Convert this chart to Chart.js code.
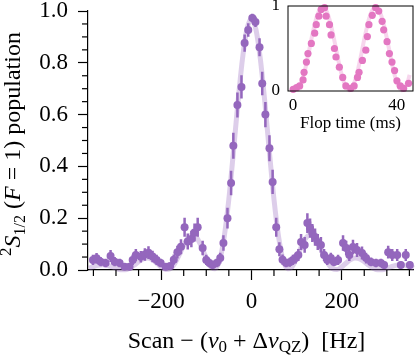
<!DOCTYPE html>
<html>
<head>
<meta charset="utf-8">
<script src="https://cdn.jsdelivr.net/npm/chart.js@4.4.1/dist/chart.umd.min.js"></script>
<style>
  html, body { margin: 0; padding: 0; background: #fff; }
  #wrap { position: relative; width: 417px; height: 357px; }
  #main { position: absolute; left: 0; top: 0; }
  #inset { position: absolute; left: 262px; top: 0; }
</style>
</head>
<body>
<div id="wrap">
  <canvas id="main" width="417" height="357"></canvas>
  <canvas id="inset" width="155" height="140"></canvas>
</div>
<script>
// main scan: detuning (Hz), population, error
const scanHz = [-351, -343, -334, -323, -312, -303, -292, -281, -270, -263, -256, -245, -236, -228, -219, -210, -201, -190, -180, -172,
  -164, -156, -148, -141, -133, -126, -119, -108, -100, -93, -86, -77, -69, -62, -53, -45, -40, -31, -22, -15,
  -7, 2, 9, 18, 24, 31, 40, 47, 55, 62, 69, 77, 85, 92, 98, 104, 110, 118, 124, 130,
  135, 141, 147, 154, 161, 168, 176, 183, 192, 203, 210, 217, 225, 234, 245, 254, 265, 276, 287, 294,
  303, 312, 323, 331, 342, 351];
const population = [0.039, 0.045, 0.032, 0.027, 0.054, 0.032, 0.027, 0.013, 0.013, 0.039, 0.058, 0.051, 0.06, 0.067, 0.052, 0.039, 0.027, 0.013, 0.015, 0.04,
  0.069, 0.09, 0.165, 0.11, 0.12, 0.145, 0.165, 0.085, 0.039, 0.027, 0.019, 0.027, 0.046, 0.104, 0.2, 0.336, 0.48, 0.637, 0.707, 0.876,
  0.927, 0.973, 0.958, 0.86, 0.72, 0.6, 0.47, 0.34, 0.165, 0.08, 0.04, 0.027, 0.03, 0.039, 0.046, 0.058, 0.108, 0.097, 0.181, 0.162,
  0.143, 0.127, 0.108, 0.097, 0.058, 0.039, 0.046, 0.031, 0.039, 0.104, 0.085, 0.058, 0.089, 0.077, 0.066, 0.046, 0.031, 0.027, 0.027, 0.019,
  0.069, 0.058, 0.058, 0.019, 0.058, 0.019];
const popErr = [0.02, 0.021, 0.018, 0.016, 0.023, 0.018, 0.016, 0.011, 0.011, 0.02, 0.023, 0.022, 0.024, 0.025, 0.022, 0.02, 0.016, 0.011, 0.012, 0.02,
  0.025, 0.029, 0.037, 0.031, 0.032, 0.035, 0.037, 0.028, 0.02, 0.016, 0.014, 0.016, 0.021, 0.03, 0.04, 0.047, 0.05, 0.048, 0.045, 0.033,
  0.026, 0.016, 0.02, 0.035, 0.045, 0.049, 0.05, 0.047, 0.037, 0.027, 0.02, 0.016, 0.017, 0.02, 0.021, 0.023, 0.031, 0.03, 0.038, 0.037,
  0.035, 0.033, 0.031, 0.03, 0.023, 0.02, 0.021, 0.017, 0.02, 0.03, 0.028, 0.023, 0.028, 0.027, 0.025, 0.021, 0.017, 0.016, 0.016, 0.014,
  0.025, 0.023, 0.023, 0.014, 0.023, 0.014];

// fitted lineshape
const fitHz = [-360, -350, -340, -330, -320, -310, -300, -290, -280, -270, -260, -250, -240, -230, -220, -210, -200, -190, -180, -170,
  -160, -150, -140, -130, -120, -110, -100, -90, -80, -70, -60, -50, -40, -30, -20, -10, 0, 10, 20, 30,
  40, 50, 60, 70, 80, 90, 100, 110, 120, 130, 140, 150, 160, 170, 180, 190, 200, 210, 220, 230,
  240, 250, 260, 270, 280, 290, 300, 310, 320, 330, 340, 350, 360];
const fitPop = [0.007, 0.013, 0.018, 0.02, 0.018, 0.013, 0.006, 0.001, 0.001, 0.007, 0.018, 0.032, 0.043, 0.046, 0.04, 0.027, 0.012, 0.002, 0.005, 0.025,
  0.058, 0.095, 0.125, 0.135, 0.122, 0.088, 0.045, 0.012, 0.005, 0.04, 0.131, 0.273, 0.453, 0.644, 0.812, 0.929, 0.97, 0.929, 0.812, 0.644,
  0.453, 0.273, 0.131, 0.04, 0.005, 0.012, 0.045, 0.088, 0.122, 0.135, 0.125, 0.095, 0.058, 0.025, 0.005, 0.002, 0.012, 0.027, 0.04, 0.046,
  0.043, 0.032, 0.018, 0.007, 0.001, 0.001, 0.006, 0.013, 0.018, 0.02, 0.018, 0.013, 0.007];

// inset: Rabi flop
const flopMs = [0.1, 1.4, 2.6, 3.9, 4.3, 5.2, 5.8, 7.1, 8.4, 9.0, 10.0, 10.9, 12.2, 12.8, 14.1, 14.7, 16.0, 16.6, 17.9, 19.2,
  20.4, 22.3, 23.6, 24.9, 25.5, 26.8, 28.1, 28.7, 29.3, 30.6, 31.9, 33.1, 34.4, 35.0, 36.3, 37.2, 38.2, 39.2, 40.1, 41.4,
  42.7, 44.6];
const flopPop = [0.02, 0.04, 0.06, 0.13, 0.22, 0.34, 0.44, 0.56, 0.68, 0.78, 0.88, 0.96, 0.98, 0.88, 0.78, 0.66, 0.5, 0.4, 0.28, 0.16,
  0.06, 0.03, 0.06, 0.16, 0.22, 0.36, 0.48, 0.64, 0.78, 0.89, 0.98, 0.94, 0.82, 0.72, 0.58, 0.44, 0.34, 0.24, 0.12, 0.06,
  0.03, 0.09];
const flopFitMs = [0, 2, 4, 6, 8, 10, 12, 14, 16, 18, 20, 22, 24, 26, 28, 30, 32, 34, 36, 38, 40, 42, 44, 45];
const flopFitPop = [0.049, 0.021, 0.17, 0.44, 0.732, 0.939, 0.984, 0.852, 0.59, 0.295, 0.076, 0.012, 0.128, 0.38, 0.679, 0.908, 0.989, 0.892, 0.652, 0.353, 0.109, 0.01, 0.091, 0.19];

// ticks
const scanTicks = [-200, 0, 200];
const scanMinor = [-350, -300, -250, -150, -100, -50, 50, 100, 150, 250, 300, 350];
const popTicks = [0, 0.2, 0.4, 0.6, 0.8, 1.0];
const popMinor = [0.05, 0.1, 0.15, 0.25, 0.3, 0.35, 0.45, 0.5, 0.55, 0.65, 0.7, 0.75, 0.85, 0.9, 0.95];
const flopTicks = [0, 40];
const flopPopTicks = [0, 1];

const PURPLE = '#9467bd';
const PINK = '#e377c2';
const SERIF = "'Liberation Serif', 'Times New Roman', serif";

const f = (size, italic) => `${italic ? 'italic ' : ''}${size}px ${SERIF}`;

const xTitle = [
  { t: 'Scan \u2212 (', font: f(24) },
  { t: '\u03bd', font: f(24, true) },
  { t: '0', font: f(17), dy: 4 },
  { t: ' + \u0394', font: f(24) },
  { t: '\u03bd', font: f(24, true) },
  { t: 'QZ', font: f(17), dy: 4 },
  { t: ')  [Hz]', font: f(24) },
];
const yTitle = [
  { t: '2', font: f(17), dy: -9 },
  { t: 'S', font: f(24, true) },
  { t: '1/2', font: f(16), dy: 5 },
  { t: ' (', font: f(24) },
  { t: 'F', font: f(24, true) },
  { t: ' = 1) population', font: f(24) },
];

function drawRich(ctx, parts, x, y) {
  let w = 0;
  parts.forEach(p => { ctx.font = p.font; w += ctx.measureText(p.t).width; });
  let cx = x - w / 2;
  ctx.textAlign = 'left';
  ctx.textBaseline = 'alphabetic';
  parts.forEach(p => {
    ctx.font = p.font;
    ctx.fillText(p.t, cx, y + (p.dy || 0));
    cx += ctx.measureText(p.t).width;
  });
}

const mainDecor = {
  id: 'mainDecor',
  afterDraw(chart) {
    const { ctx, chartArea, scales: { x, y } } = chart;
    ctx.save();
    ctx.strokeStyle = '#000';
    ctx.lineWidth = 1.2;
    scanMinor.forEach(v => {
      const px = x.getPixelForValue(v);
      ctx.beginPath(); ctx.moveTo(px, chartArea.bottom); ctx.lineTo(px, chartArea.bottom + 6); ctx.stroke();
    });
    popMinor.forEach(v => {
      const py = y.getPixelForValue(v);
      ctx.beginPath(); ctx.moveTo(chartArea.left - 6, py); ctx.lineTo(chartArea.left, py); ctx.stroke();
    });
    ctx.fillStyle = '#000';
    drawRich(ctx, xTitle, (chartArea.left + chartArea.right) / 2 - 4, 348);
    ctx.translate(20, 144);
    ctx.rotate(-Math.PI / 2);
    drawRich(ctx, yTitle, 0, 0);
    ctx.restore();
  }
};

const errData = scanHz.flatMap((x, i) => [
  { x, y: population[i] - popErr[i] },
  { x, y: population[i] + popErr[i] },
  { x, y: null },
]);

const tickFont = { family: SERIF, size: 23 };

new Chart(document.getElementById('main'), {
  type: 'scatter',
  data: {
    datasets: [
      {
        type: 'line',
        data: fitHz.map((x, i) => ({ x, y: fitPop[i] })),
        borderColor: 'rgba(148,103,189,0.32)',
        borderWidth: 5,
        pointRadius: 0,
        cubicInterpolationMode: 'monotone',
        clip: false,
        order: 3,
      },
      {
        type: 'line',
        data: errData,
        borderColor: PURPLE,
        borderWidth: 2.5,
        pointRadius: 0,
        spanGaps: false,
        clip: false,
        order: 2,
      },
      {
        data: scanHz.map((x, i) => ({ x, y: population[i] })),
        backgroundColor: PURPLE,
        borderWidth: 0,
        pointRadius: 4,
        clip: false,
        order: 1,
      },
    ],
  },
  options: {
    responsive: false,
    animation: false,
    layout: { padding: { top: 11, right: 3, left: 0, bottom: 0 } },
    plugins: { legend: { display: false }, tooltip: { enabled: false } },
    scales: {
      x: {
        type: 'linear',
        min: -362,
        max: 358,
        offset: false,
        afterBuildTicks: s => { s.ticks = scanTicks.map(value => ({ value })); },
        afterFit: s => { s.height = 87; s.paddingLeft = 0; s.paddingRight = 0; },
        ticks: {
          color: '#000',
          font: tickFont,
          padding: 8,
          maxRotation: 0,
          callback: v => (v < 0 ? '\u2212' + Math.abs(v) : String(v)),
        },
        grid: { drawOnChartArea: false, drawTicks: true, tickLength: 10, tickColor: '#000', tickWidth: 1.2, offset: false },
        border: { display: true, color: '#000', width: 1.2 },
      },
      y: {
        min: 0,
        max: 1,
        afterBuildTicks: s => { s.ticks = popTicks.map(value => ({ value })); },
        afterFit: s => { s.width = 88; s.paddingTop = 0; s.paddingBottom = 0; },
        ticks: {
          color: '#000',
          font: tickFont,
          padding: 10,
          callback: v => v.toFixed(1),
        },
        grid: { drawOnChartArea: false, drawTicks: true, tickLength: 10, tickColor: '#000', tickWidth: 1.2 },
        border: { display: true, color: '#000', width: 1.2 },
      },
    },
  },
  plugins: [mainDecor],
});

const insetDecor = {
  id: 'insetDecor',
  afterDraw(chart) {
    const { ctx, chartArea } = chart;
    ctx.save();
    ctx.strokeStyle = '#000';
    ctx.lineWidth = 1;
    ctx.strokeRect(chartArea.left, chartArea.top, chartArea.right - chartArea.left, chartArea.bottom - chartArea.top);
    ctx.fillStyle = '#000';
    drawRich(ctx, [{ t: 'Flop time (ms)', font: f(17) }], (chartArea.left + chartArea.right) / 2, 128);
    ctx.restore();
  }
};

const insetFont = { family: SERIF, size: 17 };

new Chart(document.getElementById('inset'), {
  type: 'scatter',
  data: {
    datasets: [
      {
        type: 'line',
        data: flopFitMs.map((x, i) => ({ x, y: flopFitPop[i] })),
        borderColor: 'rgba(227,119,194,0.3)',
        borderWidth: 4,
        pointRadius: 0,
        tension: 0.4,
        clip: false,
        order: 2,
      },
      {
        data: flopMs.map((x, i) => ({ x, y: flopPop[i] })),
        backgroundColor: PINK,
        borderWidth: 0,
        pointRadius: 3.6,
        clip: false,
        order: 1,
      },
    ],
  },
  options: {
    responsive: false,
    animation: false,
    layout: { padding: { top: 6, right: 2.5, left: 0, bottom: 0 } },
    plugins: { legend: { display: false }, tooltip: { enabled: false } },
    scales: {
      x: {
        type: 'linear',
        min: -1.9,
        max: 46.3,
        afterBuildTicks: s => { s.ticks = flopTicks.map(value => ({ value })); },
        afterFit: s => { s.height = 49; s.paddingLeft = 0; s.paddingRight = 0; },
        ticks: { color: '#000', font: insetFont, padding: 4, maxRotation: 0 },
        grid: { display: false, drawTicks: false },
        border: { display: false },
      },
      y: {
        min: 0,
        max: 1,
        afterBuildTicks: s => { s.ticks = flopPopTicks.map(value => ({ value })); },
        afterFit: s => { s.width = 26; s.paddingTop = 0; s.paddingBottom = 0; },
        ticks: { color: '#000', font: insetFont, padding: 8 },
        grid: { display: false, drawTicks: false },
        border: { display: false },
      },
    },
  },
  plugins: [insetDecor],
});
</script>
</body>
</html>
